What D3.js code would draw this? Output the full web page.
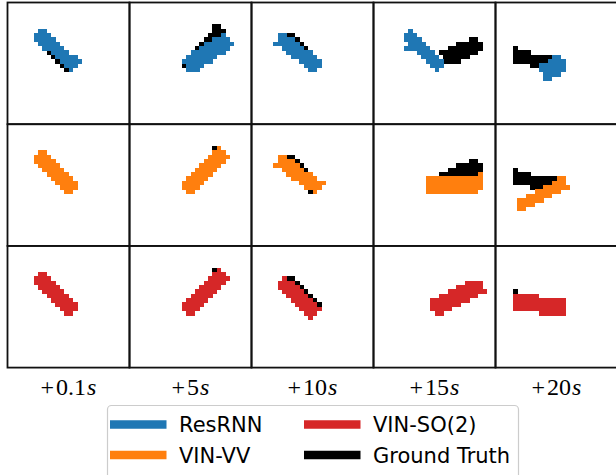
<!DOCTYPE html>
<html><head><meta charset="utf-8">
<script src="https://cdn.jsdelivr.net/npm/d3@7"></script>
<style>html,body{margin:0;padding:0;background:#fff;}svg{display:block;}</style>
</head><body><div id="chart"></div>
<script>
// ---- data ----
const timeLabels = ["0.1", "5", "10", "15", "20"];
const models = ["ResRNN", "VIN-VV", "VIN-SO(2)"];
const modelColors = ["#1f77b4", "#ff7f0e", "#d62728"];
const truthLabel = "Ground Truth";
const gridSize = 28; // image pixels per side
// each shape is a list of rods [x1, y1, x2, y2, width] in image-pixel units
const truthShapes = [
  [[6.8, 7.4, 15.0, 15.4, 3.0]],
  [[13.0, 15.4, 21.0, 5.9, 3.0]],
  [[7.0, 7.3, 15.0, 15.0, 3.2]],
  [[16.0, 13.0, 24.8, 9.3, 3.8]],
  [[4.2, 12.6, 14.0, 13.7, 3.0], [4.0, 10.5, 5.0, 10.5, 1.0]]
];
const resrnnShapes = [
  [[6.8, 6.8, 15.8, 14.9, 3.3]],
  [[12.9, 14.8, 23.0, 8.3, 4.0]],
  [[6.1, 7.9, 15.3, 14.8, 3.5]],
  [[7.3, 6.9, 15.6, 15.2, 3.2], [7.5, 10.5, 9.5, 10.5, 1.0]],
  [[10.8, 16.5, 15.5, 13.5, 4.0]]
];
const vinvvShapes = [
  [[6.7, 7.0, 15.4, 15.2, 3.4]],
  [[12.8, 15.3, 21.8, 6.0, 3.6]],
  [[6.0, 8.0, 15.8, 15.0, 3.4]],
  [[12.3, 14.3, 25.2, 13.4, 4.0]],
  [[5.2, 19.0, 16.0, 13.4, 3.0]]
];
const vinso2Shapes = [
  [[6.7, 7.0, 15.2, 15.3, 3.4]],
  [[12.9, 15.4, 21.7, 6.0, 3.6]],
  [[6.4, 7.8, 14.8, 15.6, 3.2]],
  [[13.1, 14.6, 24.8, 9.0, 3.8]],
  [[4.0, 13.0, 10.0, 13.0, 4.0], [10.0, 14.0, 16.0, 14.0, 4.0]]
];
const predShapes = [resrnnShapes, vinvvShapes, vinso2Shapes];

// ---- layout ----
const W = 616, H = 475;
const gridLeft = 7.5, gridTop = 2.5, cellW = 122, cellH = 121.7;

const svg = d3.select("#chart").append("svg").attr("width", W).attr("height", H);

function rasterize(rods) {
  const cells = [];
  for (let j = 0; j < gridSize; j++) {
    for (let i = 0; i < gridSize; i++) {
      const px = i + 0.5, py = j + 0.5;
      const hit = rods.some(([x1, y1, x2, y2, w]) => {
        const dx = x2 - x1, dy = y2 - y1, L = Math.hypot(dx, dy) || 1e-9;
        const ux = dx / L, uy = dy / L;
        const t = (px - x1) * ux + (py - y1) * uy;
        const n = -(px - x1) * uy + (py - y1) * ux;
        return t >= -1e-6 && t <= L + 1e-6 && Math.abs(n) <= w / 2 + 1e-6;
      });
      if (hit) cells.push({i, j});
    }
  }
  return cells;
}

const colScale = d3.scaleBand().domain(d3.range(timeLabels.length)).range([gridLeft, gridLeft + cellW * timeLabels.length]).padding(0);
const rowScale = d3.scaleBand().domain(d3.range(models.length)).range([gridTop, gridTop + cellH * models.length]).padding(0);

models.forEach((m, r) => {
  timeLabels.forEach((t, c) => {
    const x = d3.scaleLinear().domain([0, gridSize]).range([colScale(c), colScale(c) + colScale.bandwidth()]);
    const y = d3.scaleLinear().domain([0, gridSize]).range([rowScale(r), rowScale(r) + rowScale.bandwidth()]);
    const g = svg.append("g");
    g.append("rect").attr("x", x(0)).attr("y", y(0)).attr("width", x(gridSize) - x(0)).attr("height", y(gridSize) - y(0)).attr("fill", "#fff");
    const layers = [
      {cells: rasterize(truthShapes[c]), color: "#000"},
      {cells: rasterize(predShapes[r][c]), color: modelColors[r]}
    ];
    layers.forEach(layer => {
      g.selectAll(null).data(layer.cells).enter().append("rect")
        .attr("x", d => x(d.i)).attr("y", d => y(d.j))
        .attr("width", d => x(d.i + 1) - x(d.i) + 0.3)
        .attr("height", d => y(d.j + 1) - y(d.j) + 0.3)
        .attr("fill", layer.color)
        .attr("shape-rendering", "crispEdges");
    });
  });
});
// spines
models.forEach((m, r) => {
  timeLabels.forEach((t, c) => {
    svg.append("rect").attr("x", colScale(c)).attr("y", rowScale(r))
      .attr("width", colScale.bandwidth()).attr("height", rowScale.bandwidth())
      .attr("fill", "none").attr("stroke", "#111").attr("stroke-width", 1.8);
  });
});

// column labels
const labelG = svg.append("g");
timeLabels.forEach((t, c) => {
  const txt = labelG.append("text")
    .attr("x", colScale(c) + colScale.bandwidth() / 2)
    .attr("y", 395)
    .attr("text-anchor", "middle")
    .attr("font-family", "'Liberation Serif', 'DejaVu Serif', serif")
    .attr("font-size", 24)
    .attr("fill", "#000");
  txt.append("tspan").text("+");
  txt.append("tspan").attr("dx", 2).text(t);
  txt.append("tspan").attr("dx", 1).attr("font-style", "italic").text("s");
});

// legend
const legend = svg.append("g").attr("font-family", "'DejaVu Sans', sans-serif").attr("font-size", 21);
legend.append("rect").attr("x", 107.5).attr("y", 405.5).attr("width", 411).attr("height", 90)
  .attr("rx", 4).attr("fill", "#fff").attr("stroke", "#cccccc").attr("stroke-width", 1.2);
const legendItems = [
  {label: models[0], color: modelColors[0], x: 110, y: 424.5},
  {label: models[1], color: modelColors[1], x: 110, y: 455},
  {label: models[2], color: modelColors[2], x: 304, y: 424.5},
  {label: truthLabel, color: "#000", x: 304, y: 455}
];
legendItems.forEach(it => {
  legend.append("line").attr("x1", it.x).attr("x2", it.x + 56.5).attr("y1", it.y).attr("y2", it.y)
    .attr("stroke", it.color).attr("stroke-width", 8.5);
  legend.append("text").attr("x", it.x + 69).attr("y", it.y + 7.5).attr("fill", "#000").text(it.label);
});
</script></body></html>
